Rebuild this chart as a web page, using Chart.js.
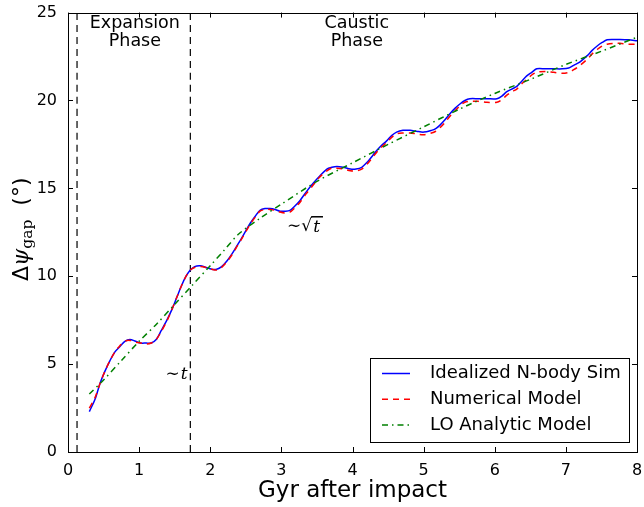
<!DOCTYPE html>
<html>
<head>
<meta charset="utf-8">
<style>
  html, body { margin: 0; padding: 0; background: #fff; }
  #wrap { width: 644px; height: 507px; }
</style>
<script src="https://cdn.jsdelivr.net/npm/chart.js@4/dist/chart.umd.min.js"></script>
</head>
<body>
<div id="wrap"><canvas id="gapChart" width="644" height="507"></canvas></div>
<script>
// Data
const simTime = [0.30, 0.38, 0.45, 0.52, 0.59, 0.66, 0.73, 0.80, 0.87, 0.95, 1.02, 1.10, 1.17, 1.24, 1.31, 1.39,
  1.46, 1.53, 1.60, 1.66, 1.72, 1.78, 1.86, 1.94, 2.02, 2.09, 2.16, 2.24, 2.31, 2.37, 2.46, 2.56, 2.63, 2.70,
  2.77, 2.84, 2.91, 2.98, 3.05, 3.12, 3.19, 3.26, 3.35, 3.45, 3.54, 3.64, 3.71, 3.78, 3.87, 3.97, 4.05, 4.13,
  4.21, 4.29, 4.34, 4.41, 4.48, 4.55, 4.62, 4.71, 4.81, 4.90, 5.00, 5.11, 5.17, 5.23, 5.30, 5.37, 5.44, 5.51,
  5.58, 5.65, 5.77, 5.89, 6.03, 6.10, 6.17, 6.24, 6.31, 6.38, 6.45, 6.52, 6.59, 6.71, 6.83, 6.95, 7.04, 7.11,
  7.20, 7.30, 7.37, 7.44, 7.51, 7.58, 7.67, 7.76, 7.88, 8.00];

const nbodySim = [2.3, 3.0, 3.9, 4.6, 5.2, 5.7, 6.0, 6.3, 6.4, 6.3, 6.2, 6.2, 6.2, 6.4, 6.9, 7.5,
  8.1, 8.8, 9.5, 10.0, 10.35, 10.55, 10.6, 10.5, 10.4, 10.4, 10.55, 10.9, 11.3, 11.7, 12.3, 13.0, 13.4, 13.75,
  13.85, 13.85, 13.8, 13.7, 13.7, 13.75, 14.0, 14.3, 14.8, 15.3, 15.7, 16.1, 16.2, 16.25, 16.2, 16.1, 16.1, 16.2,
  16.5, 16.9, 17.15, 17.45, 17.7, 18.0, 18.2, 18.3, 18.3, 18.25, 18.2, 18.3, 18.4, 18.6, 18.9, 19.25, 19.55, 19.8,
  20.0, 20.1, 20.1, 20.1, 20.1, 20.25, 20.5, 20.65, 20.8, 21.1, 21.4, 21.6, 21.8, 21.8, 21.8, 21.8, 21.85, 22.0,
  22.2, 22.55, 22.85, 23.1, 23.3, 23.45, 23.47, 23.47, 23.45, 23.4];

const numericalModel = [2.5, 3.1, 3.9, 4.6, 5.2, 5.7, 6.05, 6.3, 6.35, 6.25, 6.2, 6.15, 6.2, 6.4, 6.85, 7.45,
  8.1, 8.8, 9.5, 10.0, 10.35, 10.5, 10.55, 10.5, 10.4, 10.35, 10.5, 10.85, 11.25, 11.65, 12.25, 12.95, 13.35, 13.7,
  13.8, 13.8, 13.75, 13.65, 13.6, 13.65, 13.9, 14.2, 14.7, 15.2, 15.65, 16.0, 16.15, 16.15, 16.1, 16.0, 16.0, 16.1,
  16.4, 16.8, 17.05, 17.35, 17.6, 17.9, 18.1, 18.15, 18.15, 18.1, 18.05, 18.15, 18.25, 18.45, 18.75, 19.1, 19.4, 19.7,
  19.9, 19.95, 19.95, 19.9, 19.9, 20.05, 20.3, 20.5, 20.65, 20.95, 21.2, 21.45, 21.6, 21.65, 21.6, 21.55, 21.6, 21.75,
  22.0, 22.35, 22.65, 22.9, 23.1, 23.2, 23.25, 23.25, 23.2, 23.2];

const analyticTime = [0.3, 0.5, 0.75, 1.0, 1.25, 1.5, 1.75, 2.0, 2.2, 2.4, 2.7, 3.0, 3.5, 4.0, 4.5, 5.0, 5.5, 6.0, 6.5, 7.0, 7.5, 8.0];
const analyticModel = [3.3, 4.1, 5.2, 6.3, 7.3, 8.4, 9.5, 10.6, 11.5, 12.4, 13.3, 14.1, 15.4, 16.45, 17.5, 18.5, 19.5, 20.4, 21.2, 22.05, 22.8, 23.6];

const phaseBounds = [0.127, 1.72];
const xTicks = [0, 1, 2, 3, 4, 5, 6, 7, 8];
const yTicks = [0, 5, 10, 15, 20, 25];

function toPoints(xs, ys) {
    return xs.map((x, i) => ({ x: x, y: ys[i] }));
}

const datasets = [
    {
        label: 'Idealized N-body Sim',
        data: toPoints(simTime, nbodySim),
        borderColor: '#0000ff',
        borderWidth: 1.5,
        order: 3
    },
    {
        label: 'Numerical Model',
        data: toPoints(simTime, numericalModel),
        borderColor: '#ff0000',
        borderWidth: 1.5,
        borderDash: [6, 5],
        order: 2
    },
    {
        label: 'LO Analytic Model',
        data: toPoints(analyticTime, analyticModel),
        borderColor: '#008000',
        borderWidth: 1.5,
        borderDash: [6, 4, 1.5, 4],
        order: 1
    }
];

phaseBounds.forEach(b => {
    datasets.push({
        label: '',
        data: [{ x: b, y: 0 }, { x: b, y: 25 }],
        borderColor: '#000000',
        borderWidth: 1.2,
        borderDash: [7, 5],
        order: 4,
        isBound: true
    });
});

// Frame, inward ticks, texts and legend (matplotlib look)
const decorations = {
    id: 'decorations',
    afterDraw(chart) {
        const ctx = chart.ctx;
        const a = chart.chartArea;
        const xs = chart.scales.x, ys = chart.scales.y;
        ctx.save();

        // frame
        ctx.strokeStyle = '#000';
        ctx.lineWidth = 1;
        ctx.setLineDash([]);
        ctx.strokeRect(Math.round(a.left) + 0.5, Math.round(a.top) + 0.5,
            Math.round(a.right - a.left), Math.round(a.bottom - a.top));

        // ticks on all four sides
        ctx.beginPath();
        xTicks.forEach(v => {
            const px = Math.round(xs.getPixelForValue(v)) + 0.5;
            ctx.moveTo(px, a.bottom); ctx.lineTo(px, a.bottom - 5);
            ctx.moveTo(px, a.top); ctx.lineTo(px, a.top + 5);
        });
        yTicks.forEach(v => {
            const py = Math.round(ys.getPixelForValue(v)) + 0.5;
            ctx.moveTo(a.left, py); ctx.lineTo(a.left + 5, py);
            ctx.moveTo(a.right, py); ctx.lineTo(a.right - 5, py);
        });
        ctx.stroke();

        // phase labels
        ctx.fillStyle = '#000';
        ctx.font = '17.5px "DejaVu Sans"';
        ctx.textAlign = 'center';
        ctx.textBaseline = 'middle';
        ctx.fillText('Expansion', xs.getPixelForValue(0.94), ys.getPixelForValue(24.4));
        ctx.fillText('Phase', xs.getPixelForValue(0.94), ys.getPixelForValue(23.35));
        ctx.fillText('Caustic', xs.getPixelForValue(4.06), ys.getPixelForValue(24.4));
        ctx.fillText('Phase', xs.getPixelForValue(4.06), ys.getPixelForValue(23.35));

        // ~t
        let px = xs.getPixelForValue(1.37), py = ys.getPixelForValue(4.4);
        ctx.textAlign = 'left';
        ctx.font = '17px "DejaVu Serif"';
        ctx.fillText('\u223C', px, py);
        let w = ctx.measureText('\u223C').width;
        ctx.font = 'italic 17px "DejaVu Serif"';
        ctx.fillText('t', px + w + 1, py);

        // ~sqrt(t)
        px = xs.getPixelForValue(3.08); py = ys.getPixelForValue(12.8);
        ctx.font = '17px "DejaVu Serif"';
        ctx.fillText('\u223C\u221A', px, py);
        w = ctx.measureText('\u223C\u221A').width;
        ctx.font = 'italic 17px "DejaVu Serif"';
        const tw = ctx.measureText('t').width;
        ctx.fillText('t', px + w + 1, py + 1);
        ctx.fillRect(px + w - 1, py - 11, tw + 5, 1.5);

        // y axis title
        ctx.save();
        ctx.translate(28, (a.top + a.bottom) / 2 - 3);
        ctx.rotate(-Math.PI / 2);
        ctx.textBaseline = 'alphabetic';
        const parts = [
            { t: '\u0394', f: '22px "DejaVu Sans"', dy: 0 },
            { t: '\u03C8', f: 'italic 22px "DejaVu Serif"', dy: 0 },
            { t: 'gap', f: '15.5px "DejaVu Serif"', dy: 4 },
            { t: '  (\u00B0)', f: '22px "DejaVu Sans"', dy: 0 }
        ];
        let total = 0;
        parts.forEach(p => { ctx.font = p.f; p.w = ctx.measureText(p.t).width; total += p.w; });
        let cx = -total / 2;
        ctx.textAlign = 'left';
        parts.forEach(p => { ctx.font = p.f; ctx.fillText(p.t, cx, p.dy); cx += p.w; });
        ctx.restore();

        // x axis title
        ctx.font = '23px "DejaVu Sans"';
        ctx.textAlign = 'center';
        ctx.textBaseline = 'middle';
        ctx.fillText('Gyr after impact', (a.left + a.right) / 2, 491);

        // legend
        const lx = 370, ly = 358, lw = 259, lh = 84;
        ctx.fillStyle = '#fff';
        ctx.fillRect(lx, ly, lw, lh);
        ctx.strokeStyle = '#000';
        ctx.lineWidth = 1;
        ctx.strokeRect(lx + 0.5, ly + 0.5, lw, lh);
        ctx.font = '18px "DejaVu Sans"';
        ctx.textAlign = 'left';
        ctx.textBaseline = 'middle';
        chart.data.datasets.filter(d => !d.isBound).forEach((d, i) => {
            const ry = ly + 15.5 + i * 25.8;
            ctx.strokeStyle = d.borderColor;
            ctx.lineWidth = d.borderWidth;
            ctx.setLineDash(d.borderDash || []);
            ctx.beginPath();
            ctx.moveTo(lx + 12, ry);
            ctx.lineTo(lx + 40, ry);
            ctx.stroke();
            ctx.setLineDash([]);
            ctx.fillStyle = '#000';
            ctx.fillText(d.label, lx + 60, ry);
        });

        ctx.restore();
    }
};

new Chart(document.getElementById('gapChart'), {
    type: 'line',
    data: { datasets: datasets },
    options: {
        responsive: false,
        animation: false,
        layout: { padding: { left: 0, right: 7, top: 12, bottom: 0 } },
        elements: {
            point: { radius: 0 },
            line: { tension: 0.3, fill: false }
        },
        plugins: {
            legend: { display: false },
            tooltip: { enabled: false }
        },
        scales: {
            x: {
                type: 'linear',
                min: 0, max: 8,
                grid: { display: false },
                border: { display: false },
                afterFit: s => { s.height = 55; },
                afterBuildTicks: s => { s.ticks = xTicks.map(v => ({ value: v })); },
                ticks: { color: '#000', font: { family: 'DejaVu Sans', size: 16 }, padding: 1, maxRotation: 0 }
            },
            y: {
                type: 'linear',
                min: 0, max: 25,
                grid: { display: false },
                border: { display: false },
                afterFit: s => { s.width = 68; },
                afterBuildTicks: s => { s.ticks = yTicks.map(v => ({ value: v })); },
                ticks: { color: '#000', font: { family: 'DejaVu Sans', size: 16 }, padding: 3 }
            }
        }
    },
    plugins: [decorations]
});
</script>
</body>
</html>
